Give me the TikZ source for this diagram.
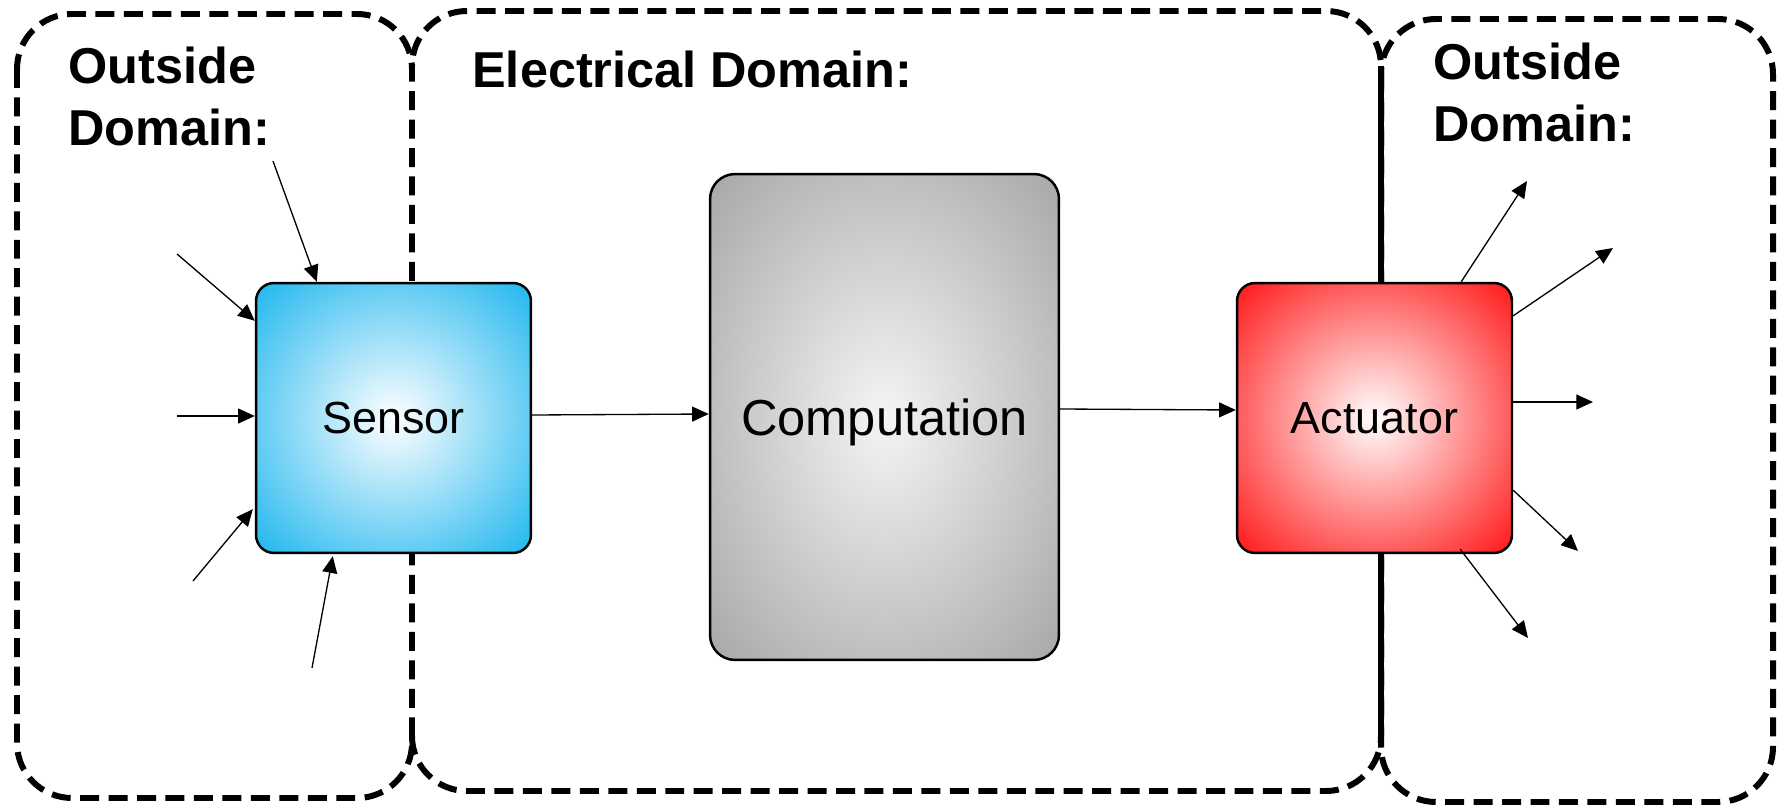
\documentclass[tikz,border=0pt]{standalone}
\usepackage{fontspec}
\setmainfont{Liberation Sans}
\usetikzlibrary{arrows.meta,calc}

\definecolor{sensorblue}{RGB}{27,181,238}
\definecolor{actred}{RGB}{255,18,18}
\definecolor{compgray}{RGB}{166,166,166}

% radial glows: white centre fading to the box colour at the corners
\pgfdeclareradialshading{sensorglow}{\pgfpoint{0bp}{0bp}}{color(0bp)=(white); color(36bp)=(sensorblue); color(60bp)=(sensorblue)}
\pgfdeclareradialshading{actglow}{\pgfpoint{0bp}{0bp}}{color(0bp)=(white); color(36bp)=(actred); color(60bp)=(actred)}
\pgfdeclareradialshading{compglow}{\pgfpoint{0bp}{0bp}}{color(0bp)=(white!96!black); color(36bp)=(compgray); color(60bp)=(compgray)}

\begin{document}
\begin{tikzpicture}[x=0.02cm,y=-0.02cm,
  frameline/.style={line width=3.4pt, dash pattern=on 10.8pt off 5.4pt, rounded corners=1.1cm},
  seam/.style={line width=3.4pt},
  block/.style={draw, line width=1.4pt, inner sep=0pt, minimum width=5.5cm, minimum height=5.4cm, rounded corners=0.36cm},
  heading/.style={anchor=north west, inner sep=0pt, align=left, font=\fontsize{28.7}{35}\selectfont\bfseries},
  arr/.style={line width=0.75pt, -{Triangle[length=9.5pt,width=8.5pt]}}
]
\useasboundingbox (0,0) rectangle (1779,808);

% domain frames
\draw[frameline] (17,14) rectangle (412,798);
\draw[frameline] (412,736) -- (412,791) -- (1381,791) -- (1381,11) -- (412,11) -- (412,66);
\draw[frameline] (1381,19) rectangle (1773,802);
\draw[seam] (1381,66) -- (1381,742);

% headings
\node[heading] (hleft) at (68,47) {Outside\\Domain:};
\node[heading] (hmid) at (472,51) {Electrical Domain:};
\node[heading] (hright) at (1433,43) {Outside\\Domain:};

% blocks
\node[block, shading=sensorglow, font=\fontsize{25.6}{30}\selectfont] (sensor) at (393.5,418) {Sensor};
\node[block, shading=compglow, minimum width=6.98cm, minimum height=9.72cm, rounded corners=0.5cm,
      font=\fontsize{28.8}{34}\selectfont] (comp) at (884.5,417) {\raisebox{-2.8pt}[\height][\depth]{Computation}};
\node[block, shading=actglow, font=\fontsize{25.6}{30}\selectfont] (act) at (1374.5,418) {Actuator};

% stimuli entering the sensor
\coordinate (in1) at (273,161);
\coordinate (in2) at (177,254);
\coordinate (in3) at (177,416);
\coordinate (in4) at (193,581);
\coordinate (in5) at (312,668);
\draw[arr] (in1) -- ($(sensor.north west)+(62,0)$);
\draw[arr] (in2) -- ($(sensor.north west)+(0,39)$);
\draw[arr] (in3) -- ($(sensor.west)+(0,-2)$);
\draw[arr] (in4) -- ($(sensor.south west)+(-2,-45)$);
\draw[arr] (in5) -- ($(sensor.south west)+(78,2)$);

% signal chain
\draw[arr] ($(sensor.east)+(0,-3)$) -- ($(comp.west)+(0,-3)$);
\draw[arr] ($(comp.east)+(0,-8)$) -- ($(act.west)+(0,-8)$);

% effects leaving the actuator
\coordinate (out1) at (1527,181);
\coordinate (out2) at (1613,248);
\coordinate (out3) at (1593,402);
\coordinate (out4) at (1578,551);
\coordinate (out5) at (1528,638);
\draw[arr] ($(act.north east)+(-52,0)$) -- (out1);
\draw[arr] ($(act.north east)+(0,34)$) -- (out2);
\draw[arr] ($(act.east)+(0,-16)$) -- (out3);
\draw[arr] ($(act.south east)+(0,-64)$) -- (out4);
\draw[arr] ($(act.south east)+(-53,-5)$) -- (out5);
\end{tikzpicture}
\end{document}
